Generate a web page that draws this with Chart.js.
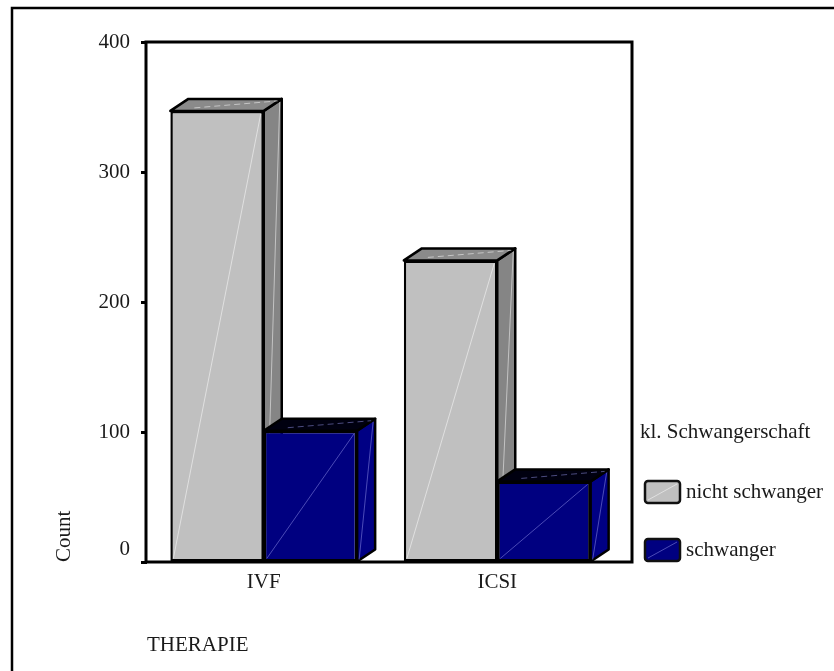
<!DOCTYPE html>
<html>
<head>
<meta charset="utf-8">
<title>THERAPIE – kl. Schwangerschaft</title>
<script src="https://cdn.jsdelivr.net/npm/chart.js@4/dist/chart.umd.min.js"></script>
<style>
  html, body { margin: 0; padding: 0; background: #ffffff; overflow: hidden; }
  #wrap { width: 834px; height: 671px; position: relative; overflow: hidden; }
  #chart { display: block; }
</style>
</head>
<body>
<div id="wrap"><canvas id="chart" width="834" height="671"></canvas></div>
<script>
// ---- data ----
const categories = ['IVF', 'ICSI'];
const seriesNames = ['nicht schwanger', 'schwanger'];
const nichtSchwanger = [347, 232];
const schwanger = [101, 62];
const yTicks = [0, 100, 200, 300, 400];
const xTitle = 'THERAPIE';
const yTitle = 'Count';
const legendTitle = 'kl. Schwangerschaft';

// ---- look ----
const FONT_FAMILY = '"Liberation Serif", "Times New Roman", serif';
const FONT_SIZE = 21;
const TEXT = '#1a1a1a';
const DX = 18, DY = -12;          // depth of the 3-D boxes
const faces = [
  { front: '#c0c0c0', side: '#858585', top: '#8a8a8a', hi: 'rgba(255,255,255,0.5)' },
  { front: '#000080', side: '#000084', top: '#000010', hi: 'rgba(150,150,235,0.5)' }
];

function barBox(chart, d, i) {
  const el = chart.getDatasetMeta(d).data[i];
  const p = el.getProps(['x', 'y', 'base', 'width'], true);
  return { l: p.x - p.width / 2, r: p.x + p.width / 2, y: p.y, base: p.base };
}

// side and top faces of each box, drawn behind the front faces
const boxes3d = {
  id: 'boxes3d',
  beforeDatasetsDraw(chart) {
    const ctx = chart.ctx;
    const n = chart.data.labels.length;
    for (let i = 0; i < n; i++) {
      chart.data.datasets.forEach((ds, d) => {
        const b = barBox(chart, d, i);
        const st = faces[d];
        ctx.save();
        ctx.lineJoin = 'round';
        ctx.lineWidth = 2.5;
        ctx.strokeStyle = '#000';
        // right side
        ctx.beginPath();
        ctx.moveTo(b.r, b.y);
        ctx.lineTo(b.r + DX, b.y + DY);
        ctx.lineTo(b.r + DX, b.base + DY);
        ctx.lineTo(b.r, b.base);
        ctx.closePath();
        ctx.fillStyle = st.side;
        ctx.fill();
        ctx.stroke();
        ctx.beginPath();
        ctx.lineWidth = 1;
        ctx.strokeStyle = st.hi;
        ctx.moveTo(b.r + 2, b.base - 2);
        ctx.lineTo(b.r + DX - 2, b.y + DY + 3);
        ctx.stroke();
        // top
        ctx.beginPath();
        ctx.lineWidth = 2.5;
        ctx.strokeStyle = '#000';
        ctx.moveTo(b.l, b.y);
        ctx.lineTo(b.l + DX, b.y + DY);
        ctx.lineTo(b.r + DX, b.y + DY);
        ctx.lineTo(b.r, b.y);
        ctx.closePath();
        ctx.fillStyle = st.top;
        ctx.fill();
        ctx.stroke();
        ctx.beginPath();
        ctx.lineWidth = 1;
        ctx.setLineDash([6, 4]);
        ctx.strokeStyle = st.hi;
        ctx.moveTo(b.l + 24, b.y - 3);
        ctx.lineTo(b.r + DX - 4, b.y + DY + 2);
        ctx.stroke();
        ctx.restore();
      });
    }
  },
  afterDatasetsDraw(chart) {
    const ctx = chart.ctx;
    chart.data.datasets.forEach((ds, d) => {
      chart.data.labels.forEach((lab, i) => {
        const b = barBox(chart, d, i);
        ctx.save();
        ctx.lineWidth = 1;
        ctx.strokeStyle = faces[d].hi;
        ctx.beginPath();
        ctx.moveTo(b.l + 3, b.base - 3);
        ctx.lineTo(b.r - 3, b.y + 3);
        ctx.stroke();
        ctx.restore();
      });
    });
  }
};

// outer page border and plot frame
const frames = {
  id: 'frames',
  beforeDraw(chart) {
    const ctx = chart.ctx;
    ctx.save();
    ctx.fillStyle = '#fff';
    ctx.fillRect(0, 0, chart.width, chart.height);
    ctx.strokeStyle = '#000';
    ctx.lineWidth = 2.5;
    ctx.beginPath();
    ctx.moveTo(12, chart.height);
    ctx.lineTo(12, 8);
    ctx.lineTo(chart.width, 8);
    ctx.stroke();
    ctx.restore();
  },
  afterDraw(chart) {
    const a = chart.chartArea;
    const ctx = chart.ctx;
    ctx.save();
    ctx.strokeStyle = '#000';
    ctx.lineWidth = 3;
    ctx.strokeRect(a.left - 1, a.top, a.right + DX - a.left + 1, a.bottom - a.top);
    ctx.restore();
  }
};

// legend block at the right
const legendBlock = {
  id: 'legendBlock',
  afterDraw(chart) {
    const ctx = chart.ctx;
    const a = chart.chartArea;
    const x0 = a.right + DX + 8;
    ctx.save();
    ctx.font = FONT_SIZE + 'px ' + FONT_FAMILY;
    ctx.fillStyle = TEXT;
    ctx.textBaseline = 'middle';
    ctx.textAlign = 'left';
    ctx.fillText(legendTitle, x0, 432);
    chart.data.datasets.forEach((ds, i) => {
      const bx = x0 + 5, by = 481 + i * 58, bw = 35, bh = 22;
      ctx.beginPath();
      ctx.roundRect(bx, by, bw, bh, 3);
      ctx.fillStyle = ds.backgroundColor;
      ctx.fill();
      ctx.beginPath();
      ctx.lineWidth = 1;
      ctx.strokeStyle = faces[i].hi;
      ctx.moveTo(bx + 3, by + bh - 3);
      ctx.lineTo(bx + bw - 3, by + 3);
      ctx.stroke();
      ctx.beginPath();
      ctx.roundRect(bx, by, bw, bh, 3);
      ctx.lineWidth = 2.5;
      ctx.strokeStyle = '#111';
      ctx.stroke();
      ctx.fillStyle = TEXT;
      ctx.fillText(ds.label, bx + bw + 6, by + bh / 2);
    });
    ctx.restore();
  }
};

new Chart(document.getElementById('chart'), {
  type: 'bar',
  data: {
    labels: categories,
    datasets: [
      { label: seriesNames[0], data: nichtSchwanger, backgroundColor: faces[0].front },
      { label: seriesNames[1], data: schwanger, backgroundColor: faces[1].front }
    ]
  },
  options: {
    responsive: false,
    animation: false,
    devicePixelRatio: 1,
    layout: { padding: { left: 40, top: 42, right: 220, bottom: 0 } },
    datasets: {
      bar: {
        borderColor: '#000',
        borderWidth: 2.5,
        borderSkipped: false,
        categoryPercentage: 0.8,
        barPercentage: 1.0
      }
    },
    plugins: {
      legend: { display: false },
      tooltip: { enabled: false }
    },
    scales: {
      x: {
        grid: { display: false, drawTicks: false },
        border: { display: false },
        ticks: {
          padding: 8,
          color: TEXT,
          font: { family: FONT_FAMILY, size: FONT_SIZE }
        },
        title: {
          display: true,
          text: xTitle,
          align: 'start',
          color: TEXT,
          font: { family: FONT_FAMILY, size: FONT_SIZE },
          padding: { top: 0, bottom: 13 }
        },
        afterFit(s) { s.height = 109; }
      },
      y: {
        min: 0,
        max: 400,
        afterBuildTicks(s) { s.ticks = yTicks.map(v => ({ value: v })); },
        grid: { drawOnChartArea: false, drawTicks: true, tickLength: 6, tickWidth: 3, tickColor: '#000' },
        border: { display: false },
        ticks: {
          padding: 11,
          color: TEXT,
          font: { family: FONT_FAMILY, size: FONT_SIZE },
          callback: v => (v === 0 ? ['0', ''] : String(v))
        },
        title: {
          display: true,
          text: yTitle,
          align: 'start',
          color: TEXT,
          font: { family: FONT_FAMILY, size: FONT_SIZE },
          padding: { top: 12, bottom: 0 }
        },
        afterFit(s) { s.width = 107; }
      }
    }
  },
  plugins: [frames, boxes3d, legendBlock]
});
</script>
</body>
</html>
